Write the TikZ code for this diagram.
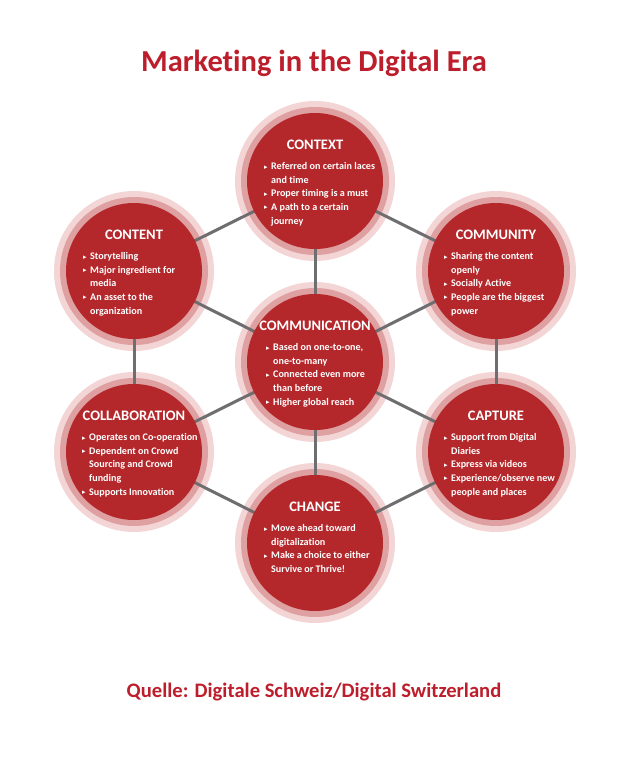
\documentclass[tikz,border=0pt]{standalone}
\usepackage{fontspec}
\setmainfont{Carlito}[Ligatures={NoCommon,NoContextual}]
\newfontfamily\symfont{DejaVu Sans}
\usetikzlibrary{calc}
\definecolor{darkred}{HTML}{B4282C}
\definecolor{midring}{HTML}{DFA0A1}
\definecolor{lightring}{HTML}{F3D5D5}
\definecolor{titlered}{HTML}{BD1E2C}
\definecolor{linkgray}{HTML}{6E6E70}
\newcommand{\bul}{\makebox[7pt][l]{\raisebox{0.6pt}{\symfont\fontsize{7}{7}\selectfont ▸}}}
\newcommand{\ind}{\hspace*{7pt}}
\pgfdeclarelayer{paper}
\pgfdeclarelayer{rings}
\pgfdeclarelayer{links}
\pgfsetlayers{paper,rings,links,main}
\tikzset{
  hub/.style={circle, fill=darkred, draw=none, minimum size=136pt, inner sep=0pt},
  link/.style={draw=linkgray, line width=3pt},
  hubtitle/.style={anchor=base, text=white, inner sep=0pt, font=\fontsize{14.5}{15}\selectfont\bfseries},
  hubitems/.style={anchor=north west, text=white, inner sep=0pt, align=left, font=\fontsize{10.1}{13.6}\selectfont\bfseries},
  heading/.style={text=titlered, inner sep=0pt, font=\fontsize{30.5}{33}\selectfont\bfseries},
  source/.style={text=titlered, inner sep=0pt, font=\fontsize{20.6}{23}\selectfont\bfseries}
}
\newcommand{\ringsfor}[1]{%
  \begin{pgfonlayer}{rings}
    \fill[lightring] (#1.center) circle (80pt);
    \fill[midring] (#1.center) circle (74pt);
  \end{pgfonlayer}}
\begin{document}
\begin{tikzpicture}[x=1pt, y=-1pt]
\useasboundingbox (0,0) rectangle (630,770);
\begin{pgfonlayer}{paper}
\fill[white] (0,0) rectangle (630,770);
\end{pgfonlayer}

\node[heading] (title) at (314,63) {Marketing in the Digital Era};
\node[source] (src) at (314,692) {Quelle: Digitale Schweiz/Digital Switzerland};

\node[hub] (ctx) at (315,181) {};
\node[hub] (cnt) at (134,271) {};
\node[hub] (cmy) at (496,271) {};
\node[hub] (com) at (315,362) {};
\node[hub] (col) at (134,452) {};
\node[hub] (cap) at (496,452) {};
\node[hub] (chg) at (315,543) {};

\ringsfor{ctx}\ringsfor{cnt}\ringsfor{cmy}\ringsfor{com}\ringsfor{col}\ringsfor{cap}\ringsfor{chg}

\begin{pgfonlayer}{links}
\draw[link] (ctx.center) -- (cnt.center);
\draw[link] (ctx.center) -- (cmy.center);
\draw[link] (ctx.center) -- (com.center);
\draw[link] (cnt.center) -- (com.center);
\draw[link] (cmy.center) -- (com.center);
\draw[link] (cnt.center) -- (col.center);
\draw[link] (cmy.center) -- (cap.center);
\draw[link] (com.center) -- (col.center);
\draw[link] (com.center) -- (cap.center);
\draw[link] (com.center) -- (chg.center);
\draw[link] (col.center) -- (chg.center);
\draw[link] (cap.center) -- (chg.center);
\end{pgfonlayer}

\node[hubtitle] (ctxT) at ([yshift=31.5pt]ctx.center) {CONTEXT};
\node[hubitems] (ctxI) at ([xshift=-51pt,yshift=20.5pt]ctx.center) {\rule{0pt}{9pt}\bul Referred on certain laces\\\ind and time\\\bul Proper timing is a must\\\bul A path to a certain\\\ind journey};

\node[hubtitle] (cntT) at ([yshift=31.5pt]cnt.center) {CONTENT};
\node[hubitems] (cntI) at ([xshift=-51pt,yshift=20.5pt]cnt.center) {\rule{0pt}{9pt}\bul Storytelling\\\bul Major ingredient for\\\ind media\\\bul An asset to the\\\ind organization};

\node[hubtitle] (cmyT) at ([yshift=31.5pt]cmy.center) {COMMUNITY};
\node[hubitems] (cmyI) at ([xshift=-52pt,yshift=20.5pt]cmy.center) {\rule{0pt}{9pt}\bul Sharing the content\\\ind openly\\\bul Socially Active\\\bul People are the biggest\\\ind power};

\node[hubtitle] (comT) at ([yshift=31.5pt]com.center) {COMMUNICATION};
\node[hubitems] (comI) at ([xshift=-49pt,yshift=20.5pt]com.center) {\rule{0pt}{9pt}\bul Based on one-to-one,\\\ind one-to-many\\\bul Connected even more\\\ind than before\\\bul Higher global reach};

\node[hubtitle] (colT) at ([yshift=31.5pt]col.center) {COLLABORATION};
\node[hubitems] (colI) at ([xshift=-52pt,yshift=20.5pt]col.center) {\rule{0pt}{9pt}\bul Operates on Co-operation\\\bul Dependent on Crowd\\\ind Sourcing and Crowd\\\ind funding\\\bul Supports Innovation};

\node[hubtitle] (capT) at ([yshift=31.5pt]cap.center) {CAPTURE};
\node[hubitems] (capI) at ([xshift=-52pt,yshift=20.5pt]cap.center) {\rule{0pt}{9pt}\bul Support from Digital\\\ind Diaries\\\bul Express via videos\\\bul Experience/observe new\\\ind people and places};

\node[hubtitle] (chgT) at ([yshift=31.5pt]chg.center) {CHANGE};
\node[hubitems] (chgI) at ([xshift=-51pt,yshift=20.5pt]chg.center) {\rule{0pt}{9pt}\bul Move ahead toward\\\ind digitalization\\\bul Make a choice to either\\\ind Survive or Thrive!};
\end{tikzpicture}
\end{document}
